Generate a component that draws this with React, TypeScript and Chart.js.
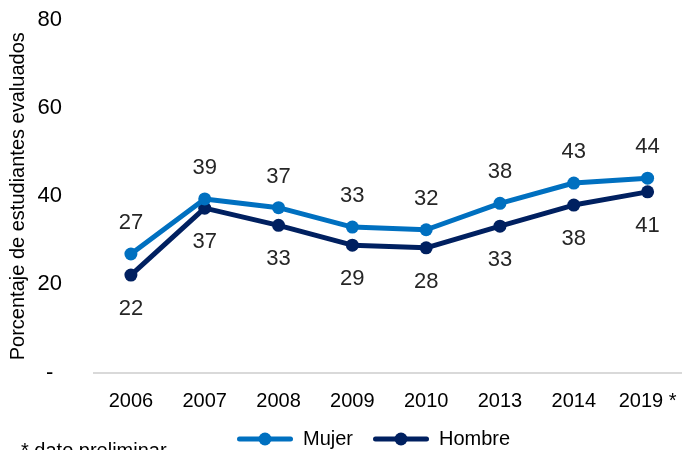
import React, { useEffect, useRef } from "react";
import { Chart, registerables } from "chart.js";

Chart.register(...registerables);

const categories = ["2006", "2007", "2008", "2009", "2010", "2013", "2014", "2019 *"];
const mujer = [26.9, 39.4, 37.4, 33.0, 32.4, 38.4, 43.0, 44.1];
const hombre = [22.1, 37.3, 33.4, 28.9, 28.3, 33.2, 38.0, 41.0];
const seriesNames = ["Mujer", "Hombre"];
const seriesColors = ["#0070C0", "#002060"];
const yMin = 0;
const yMax = 80;
const yStep = 20;
const yTitle = "Porcentaje de estudiantes evaluados";
const note = "* dato preliminar";

const FONT = "'Liberation Sans', Arial, sans-serif";

const dataLabelPlugin = {
  id: "dataLabels",
  afterDatasetsDraw(chart: any) {
    const ctx = chart.ctx;
    ctx.save();
    ctx.font = `22px ${FONT}`;
    ctx.fillStyle = "#262626";
    ctx.textAlign = "center";
    ctx.textBaseline = "middle";
    chart.data.datasets.forEach((ds: any, di: number) => {
      const meta = chart.getDatasetMeta(di);
      meta.data.forEach((pt: any, i: number) => {
        const v = Math.round(ds.data[i]);
        const dy = di === 0 ? -31 : 34;
        ctx.fillText(String(v), pt.x, pt.y + dy);
      });
    });
    ctx.restore();
  },
};

const legendPlugin = {
  id: "customLegend",
  afterDraw(chart: any) {
    const ctx = chart.ctx;
    ctx.save();
    const y = 439;
    let x = 237;
    const lineLen = 56;
    ctx.font = `20px ${FONT}`;
    ctx.textBaseline = "middle";
    ctx.textAlign = "left";
    chart.data.datasets.forEach((ds: any) => {
      ctx.strokeStyle = ds.borderColor;
      ctx.lineWidth = 5;
      ctx.lineCap = "round";
      ctx.beginPath();
      ctx.moveTo(x + 2.5, y);
      ctx.lineTo(x + lineLen - 2.5, y);
      ctx.stroke();
      ctx.fillStyle = ds.borderColor;
      ctx.beginPath();
      ctx.arc(x + lineLen / 2, y, 6.5, 0, Math.PI * 2);
      ctx.fill();
      ctx.fillStyle = "#000";
      const tx = x + lineLen + 10;
      ctx.fillText(ds.label, tx, y);
      x = tx + ctx.measureText(ds.label).width + 20;
    });
    ctx.font = `20px ${FONT}`;
    ctx.textBaseline = "alphabetic";
    ctx.fillStyle = "#000";
    ctx.fillText(note, 21, 457);
    ctx.restore();
  },
};

export default function App() {
  const ref = useRef<HTMLCanvasElement | null>(null);

  useEffect(() => {
    if (!ref.current) return;
    const chart = new Chart(ref.current, {
      type: "line",
      data: {
        labels: categories,
        datasets: [
          {
            label: seriesNames[0],
            data: mujer,
            borderColor: seriesColors[0],
            backgroundColor: seriesColors[0],
            pointBackgroundColor: seriesColors[0],
            pointBorderWidth: 0,
            pointRadius: 6.5,
            borderWidth: 5,
            borderCapStyle: "round",
            borderJoinStyle: "round",
            tension: 0,
          },
          {
            label: seriesNames[1],
            data: hombre,
            borderColor: seriesColors[1],
            backgroundColor: seriesColors[1],
            pointBackgroundColor: seriesColors[1],
            pointBorderWidth: 0,
            pointRadius: 6.5,
            borderWidth: 5,
            borderCapStyle: "round",
            borderJoinStyle: "round",
            tension: 0,
          },
        ],
      },
      options: {
        responsive: false,
        animation: false,
        devicePixelRatio: 1,
        layout: { padding: { top: 20, right: 0, bottom: 0, left: 0 } },
        plugins: {
          legend: { display: false },
          tooltip: { enabled: false },
        },
        scales: {
          x: {
            type: "category",
            offset: true,
            grid: { display: false, drawTicks: false },
            border: { display: true, color: "#d9d9d9", width: 2 },
            ticks: {
              color: "#000",
              font: { family: FONT, size: 20 },
              padding: 17,
              maxRotation: 0,
              autoSkip: false,
            },
            afterFit(scale: any) {
              scale.height = 77.5;
              scale.paddingLeft = 0;
              scale.paddingRight = 0;
            },
          },
          y: {
            min: yMin,
            max: yMax,
            grid: { display: false, drawTicks: false },
            border: { display: false },
            ticks: {
              stepSize: yStep,
              color: "#000",
              font: { family: FONT, size: 22 },
              padding: 32,
              crossAlign: "center",
              callback: (v: any) => (Number(v) === 0 ? "-" : String(v)),
            },
            title: {
              display: true,
              text: yTitle,
              color: "#000",
              font: { family: FONT, size: 20 },
              padding: { top: 6, bottom: 0 },
            },
            afterFit(scale: any) {
              scale.width = 94;
              scale.paddingTop = 0;
              scale.paddingBottom = 0;
            },
          },
        },
      },
      plugins: [dataLabelPlugin, legendPlugin],
    } as any);
    return () => chart.destroy();
  }, []);

  return (
    <div
      style={{
        position: "absolute",
        left: 0,
        top: 0,
        width: 682,
        height: 450,
        overflow: "hidden",
        background: "#fff",
      }}
    >
      <canvas ref={ref} width={691} height={450} style={{ width: 691, height: 450, display: "block" }} />
    </div>
  );
}
